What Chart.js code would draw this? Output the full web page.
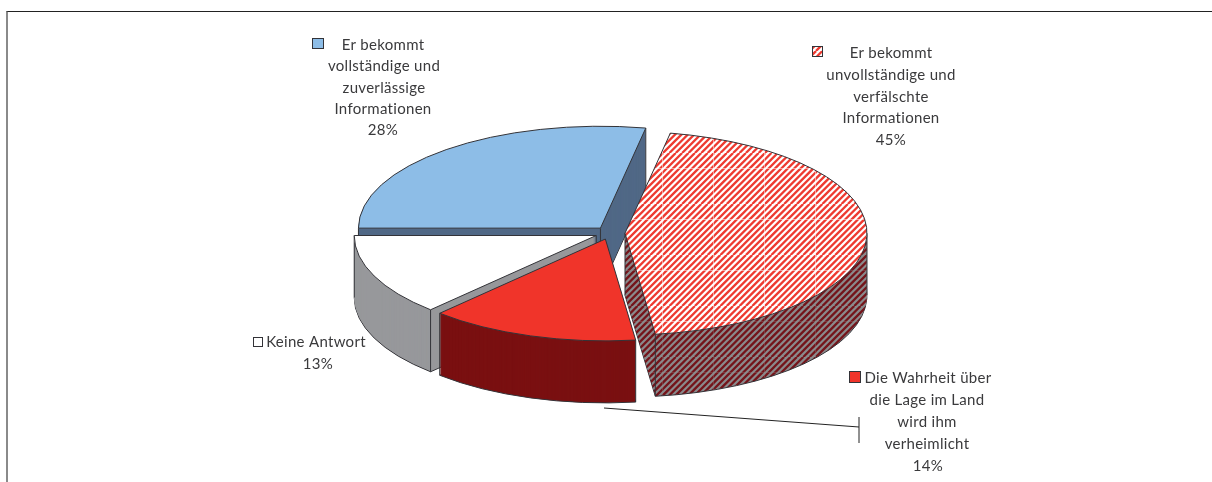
<!DOCTYPE html>
<html lang="de">
<head>
<meta charset="utf-8">
<title>Informationslage</title>
<script src="https://cdn.jsdelivr.net/npm/chart.js@4/dist/chart.umd.min.js"></script>
<style>
  html, body { margin: 0; padding: 0; background: #fff; }
  #wrap { position: relative; width: 1212px; height: 482px; overflow: hidden; }
  #pie { position: absolute; left: 0; top: 0; }
  #frame { position: absolute; left: 6px; top: 11px; right: 0; bottom: 0;
           border-top: 1px solid #222; border-left: 2px solid #8a8a8a; pointer-events: none; }
</style>
</head>
<body>
<div id="wrap">
  <canvas id="pie" width="1212" height="482"></canvas>
  <div id="frame"></div>
</div>
<script>
// Answer shares in percent, clockwise from nine o'clock.
const categories = [
  'Er bekommt vollständige und zuverlässige Informationen',
  'Er bekommt unvollständige und verfälschte Informationen',
  'Die Wahrheit über die Lage im Land wird ihm verheimlicht',
  'Keine Antwort'
];
const shares = [28, 45, 14, 13];
const topColors = ['#8DBDE7', 'hatchTop', '#F0342A', '#FFFFFF'];
const wallColors = ['#506886', 'hatchWall', '#7A1011', '#97989B'];
const keyColors = ['#8DBDE7', 'hatchKey', '#F0342A', '#FFFFFF'];

// Label blocks: wrapped text, centre x per line, first baseline, and key position.
const labelLines = [
  ['Er bekommt', 'vollständige und', 'zuverlässige', 'Informationen', '28%'],
  ['Er bekommt', 'unvollständige und', 'verfälschte', 'Informationen', '45%'],
  ['Die Wahrheit über', 'die Lage im Land', 'wird ihm', 'verheimlicht', '14%'],
  ['Keine Antwort', '13%']
];
const labelCentreX = [
  [383, 384, 384, 383, 383],
  [891, 891, 891, 891, 891],
  [928, 927, 927, 927, 928],
  [316, 318]
];
const labelFirstBaseline = [50, 58, 383, 347];
const labelLineGap = [21.3, 21.8, 22, 22];
const keyBoxes = [[312, 38, 12, 11], [812, 46, 11, 11], [849, 371, 12, 12], [253, 337, 10, 10]];

// 3D presentation of the pie.
const squash = 0.421;
const depth = 62;
const explode = 15;
const centreY = 233;
const edgeColor = '#333338';

function hatchTile(bg, stripe, seam, width) {
  const size = 51, period = size / 8, c = document.createElement('canvas');
  c.width = c.height = size;
  const g = c.getContext('2d');
  g.fillStyle = bg; g.fillRect(0, 0, size, size);
  g.strokeStyle = stripe; g.lineWidth = width;
  for (let i = -size; i < size * 2; i += period) {
    g.beginPath(); g.moveTo(i, size); g.lineTo(i + size, 0); g.stroke();
  }
  if (seam) {
    g.fillStyle = seam;
    g.fillRect(50, 0, 1, size);
    g.fillRect(0, 15, size, 1);
  }
  return g.createPattern(c, 'repeat');
}

const ctx0 = document.getElementById('pie').getContext('2d');
const patterns = {
  hatchTop: hatchTile('#FFFFFF', '#EE3A30', 'rgba(255,255,255,0.5)', 2.3),
  hatchWall: hatchTile('#8A8A8C', '#74141A', 'rgba(150,140,140,0.3)', 2.3),
  hatchKey: hatchTile('#FFFFFF', '#EE3A30', null, 2.3)
};
const paint = c => patterns[c] || c;

// Fill and stroke in device space, so hatches stay put and lines keep an even width
// even though the arc path itself is built under the squashed transform.
function withFlatPaint(ctx, fn) {
  const proto = CanvasRenderingContext2D.prototype;
  ctx.fill = function () {
    const t = ctx.getTransform();
    ctx.setTransform(1, 0, 0, 1, 0, 0);
    proto.fill.call(ctx);
    ctx.setTransform(t);
  };
  ctx.stroke = function () {
    const t = ctx.getTransform();
    ctx.setTransform(1, 0, 0, 1, 0, 0);
    proto.stroke.call(ctx);
    ctx.setTransform(t);
  };
  fn();
  delete ctx.fill;
  delete ctx.stroke;
}

function drawArcAt(ctx, el, dy, overrides) {
  const mid = (el.startAngle + el.endAngle) / 2;
  const saved = el.options;
  el.options = Object.assign({}, saved, overrides);
  ctx.save();
  ctx.translate(el.x, centreY + dy);
  ctx.scale(1, squash);
  ctx.translate(-el.x + explode * Math.cos(mid), -el.y + explode * Math.sin(mid));
  el.draw(ctx);
  ctx.restore();
  el.options = saved;
}

// Vertical edges at the slice corners and where the rim turns out of view.
function drawWallEdges(ctx, el) {
  const mid = (el.startAngle + el.endAngle) / 2;
  const ox = el.x + explode * Math.cos(mid);
  const oy = centreY + explode * Math.sin(mid) * squash;
  const angles = [el.startAngle, el.endAngle];
  for (const turn of [0, Math.PI, -Math.PI, 2 * Math.PI]) {
    if (turn > el.startAngle && turn < el.endAngle) angles.push(turn);
  }
  const pts = [[ox, oy]].concat(angles.map(a => [
    ox + el.outerRadius * Math.cos(a),
    oy + el.outerRadius * Math.sin(a) * squash
  ]));
  ctx.save();
  ctx.strokeStyle = edgeColor;
  ctx.lineWidth = 1;
  for (const [x, y] of pts) {
    ctx.beginPath(); ctx.moveTo(x, y); ctx.lineTo(x, y + depth); ctx.stroke();
  }
  ctx.restore();
}

const pie3d = {
  id: 'pie3d',
  beforeDatasetsDraw(chart) {
    const ctx = chart.ctx;
    const arcs = chart.getDatasetMeta(0).data;
    // Back to front: blue, white, hatched, red.
    const order = [0, 3, 1, 2];
    withFlatPaint(ctx, () => {
      for (const i of order) {
        const el = arcs[i];
        drawArcAt(ctx, el, depth, { backgroundColor: paint(wallColors[i]), borderColor: edgeColor, borderWidth: 1 });
        for (let d = depth - 1; d > 0; d--) {
          drawArcAt(ctx, el, d, { backgroundColor: paint(wallColors[i]), borderWidth: 0 });
        }
        drawWallEdges(ctx, el);
        drawArcAt(ctx, el, 0, { backgroundColor: paint(topColors[i]), borderColor: edgeColor, borderWidth: 1 });
      }
    });
    return false;
  },
  afterDraw(chart) {
    const ctx = chart.ctx;
    ctx.save();
    ctx.font = '15px Lato, sans-serif';
    ctx.letterSpacing = '0.3px';
    ctx.textAlign = 'center';
    ctx.textBaseline = 'alphabetic';
    labelLines.forEach((lines, i) => {
      ctx.fillStyle = '#3a3a3c';
      lines.forEach((t, n) => {
        ctx.fillText(t, labelCentreX[i][n], labelFirstBaseline[i] + n * labelLineGap[i]);
      });
      const [kx, ky, kw, kh] = keyBoxes[i];
      ctx.fillStyle = paint(keyColors[i]);
      ctx.fillRect(kx, ky, kw, kh);
      ctx.strokeStyle = edgeColor;
      ctx.lineWidth = 1;
      ctx.strokeRect(kx + 0.5, ky + 0.5, kw - 1, kh - 1);
    });
    // Leader from the red slice to its label.
    ctx.strokeStyle = '#222';
    ctx.lineWidth = 1;
    ctx.beginPath();
    ctx.moveTo(604, 408); ctx.lineTo(859, 427);
    ctx.moveTo(859, 417); ctx.lineTo(859, 443);
    ctx.stroke();
    ctx.restore();
  }
};

new Chart(ctx0, {
  type: 'pie',
  data: {
    labels: categories,
    datasets: [{ data: shares, backgroundColor: topColors.map(paint), borderWidth: 0, hoverOffset: 0 }]
  },
  options: {
    responsive: false,
    animation: false,
    rotation: -90,
    radius: 242,
    layout: { padding: { left: 8 } },
    plugins: { legend: { display: false }, tooltip: { enabled: false } }
  },
  plugins: [pie3d]
});
</script>
</body>
</html>
